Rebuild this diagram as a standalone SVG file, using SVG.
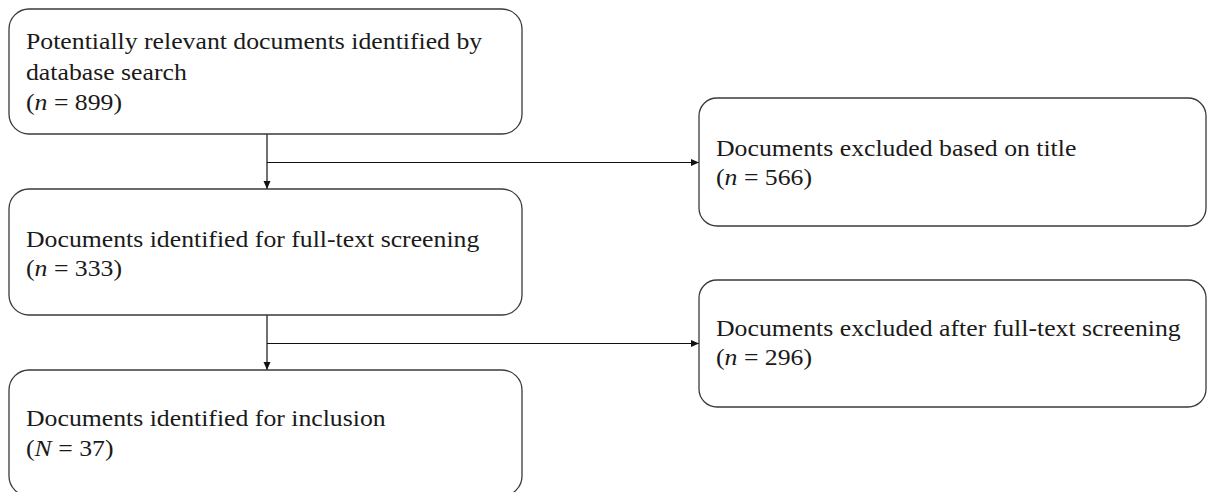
<svg xmlns="http://www.w3.org/2000/svg" width="1208" height="492" viewBox="0 0 1208 492">
  <style>
    .box { fill: #ffffff; stroke: #3a3a3a; stroke-width: 1.3; }
    .lbl { font-family: "Liberation Serif", "Times New Roman", serif; font-size: 23px; fill: #1a1a1a; }
    .it { font-style: italic; }
    .conn { stroke: #111111; stroke-width: 1.2; fill: none; marker-end: url(#arrow); }
  </style>
  <defs>
    <marker id="arrow" markerUnits="userSpaceOnUse" markerWidth="9" markerHeight="8" refX="8" refY="3.5" orient="auto">
      <path d="M0,0 L8,3.5 L0,7 Z" fill="#111111"/>
    </marker>
  </defs>
  <rect width="1208" height="492" fill="#ffffff"/>

  <g id="connectors">
    <line class="conn" x1="267" y1="134" x2="267" y2="189"/>
    <line class="conn" x1="267" y1="162.5" x2="699" y2="162.5"/>
    <line class="conn" x1="267" y1="315" x2="267" y2="370"/>
    <line class="conn" x1="267" y1="343.5" x2="699" y2="343.5"/>
  </g>

  <g id="node-identified">
    <rect class="box" x="9" y="9" width="513" height="125" rx="20" ry="20"/>
    <text class="lbl" transform="translate(26,49) scale(1.12,1)">Potentially relevant documents identified by</text>
    <text class="lbl" transform="translate(26,79.5) scale(1.12,1)">database search</text>
    <text class="lbl" transform="translate(26,109.5) scale(1.12,1)">(<tspan class="it">n</tspan> = 899)</text>
  </g>

  <g id="node-fulltext">
    <rect class="box" x="9" y="189" width="513" height="126" rx="20" ry="20"/>
    <text class="lbl" transform="translate(26,246.5) scale(1.12,1)">Documents identified for full-text screening</text>
    <text class="lbl" transform="translate(26,276) scale(1.12,1)">(<tspan class="it">n</tspan> = 333)</text>
  </g>

  <g id="node-inclusion">
    <rect class="box" x="9" y="370" width="513" height="126" rx="20" ry="20"/>
    <text class="lbl" transform="translate(26,426) scale(1.12,1)">Documents identified for inclusion</text>
    <text class="lbl" transform="translate(26,455.5) scale(1.12,1)">(<tspan class="it">N</tspan> = 37)</text>
  </g>

  <g id="node-excluded-title">
    <rect class="box" x="699" y="98" width="507" height="128" rx="18" ry="18"/>
    <text class="lbl" transform="translate(716,155.5) scale(1.12,1)">Documents excluded based on title</text>
    <text class="lbl" transform="translate(716,185) scale(1.12,1)">(<tspan class="it">n</tspan> = 566)</text>
  </g>

  <g id="node-excluded-fulltext">
    <rect class="box" x="699" y="280" width="507" height="127" rx="18" ry="18"/>
    <text class="lbl" transform="translate(716,335.5) scale(1.12,1)">Documents excluded after full-text screening</text>
    <text class="lbl" transform="translate(716,365) scale(1.12,1)">(<tspan class="it">n</tspan> = 296)</text>
  </g>
</svg>
